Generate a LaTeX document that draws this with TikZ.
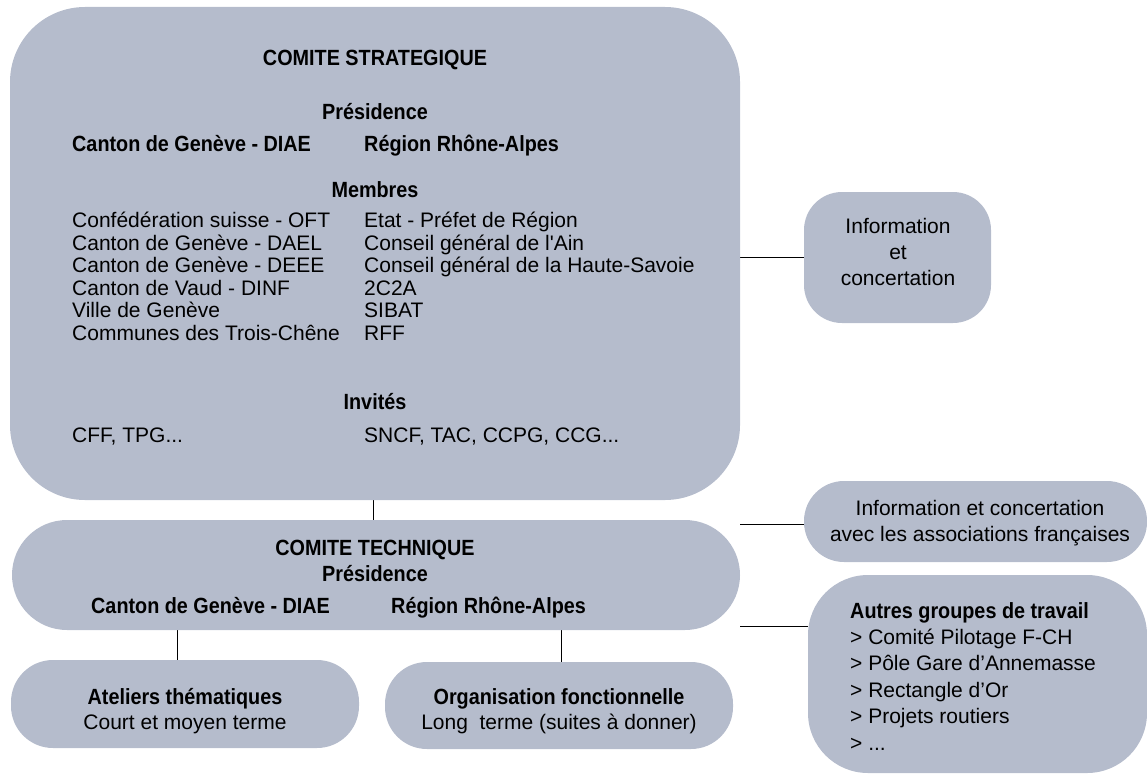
\documentclass[tikz,border=0pt]{standalone}
\usepackage{fontspec}
\setmainfont{Liberation Sans}
\newfontfamily\hdfont{Liberation Sans}[FakeStretch=0.9]
\usetikzlibrary{backgrounds}
\definecolor{boxfill}{RGB}{181,188,204}
\begin{document}
\begin{tikzpicture}[x=1pt,y=-1pt,
  box/.style={fill=boxfill, draw=none, inner sep=0pt, outer sep=0pt},
  hd/.style={font={\hdfont\bfseries\fontsize{22}{26}\selectfont}, inner sep=0pt, anchor=base},
  hdl/.style={hd, anchor=base west},
  tx/.style={font={\fontsize{21}{25}\selectfont}, inner sep=0pt, anchor=base west},
  txc/.style={tx, anchor=base},
  conn/.style={draw=black, line width=0.9pt}
]
\useasboundingbox (0,0) rectangle (1147,776);

% boxes
\node[box, rounded corners=75pt, minimum width=730pt, minimum height=493pt] (cs) at (375,253.5) {};
\node[box, rounded corners=55pt, minimum width=728pt, minimum height=110pt] (ct) at (376,575) {};
\node[box, rounded corners=38pt, minimum width=187pt, minimum height=131pt] (info) at (897.5,257.5) {};
\node[box, rounded corners=40pt, minimum width=343pt, minimum height=81pt] (assoc) at (975.5,521.5) {};
\node[box, rounded corners=60pt, minimum width=339pt, minimum height=198pt] (autres) at (977.5,674) {};
\node[box, rounded corners=42pt, minimum width=348pt, minimum height=88pt] (atel) at (185,704) {};
\node[box, rounded corners=42pt, minimum width=348pt, minimum height=87pt] (org) at (559,705.5) {};

% comite strategique
\node[hd] (cstitle) at (375,66) {COMITE STRATEGIQUE};
\node[hd] (cspres) at (375,119) {Présidence};
\node[hdl] (csp1) at (72,151) {Canton de Genève - DIAE};
\node[hdl] (csp2) at (364,151) {Région Rhône-Alpes};
\node[hd] (csmem) at (375,197) {Membres};
\node[tx] (ma1) at (72,227.5) {Confédération suisse - OFT};
\node[tx] (ma2) at (72,250.1) {Canton de Genève - DAEL};
\node[tx] (ma3) at (72,272.7) {Canton de Genève - DEEE};
\node[tx] (ma4) at (72,295.3) {Canton de Vaud - DINF};
\node[tx] (ma5) at (72,317.9) {Ville de Genève};
\node[tx] (ma6) at (72,340.5) {Communes des Trois-Chêne};
\node[tx] (mb1) at (364,227.5) {Etat - Préfet de Région};
\node[tx] (mb2) at (364,250.1) {Conseil général de l\textquotesingle Ain};
\node[tx] (mb3) at (364,272.7) {Conseil général de la Haute-Savoie};
\node[tx] (mb4) at (364,295.3) {2C2A};
\node[tx] (mb5) at (364,317.9) {SIBAT};
\node[tx] (mb6) at (364,340.5) {RFF};
\node[hd] (csinv) at (375,409) {Invités};
\node[tx] (inv1) at (72,442.5) {CFF, TPG...};
\node[tx] (inv2) at (364,442.5) {SNCF, TAC, CCPG, CCG...};

% comite technique
\node[hd] (cttitle) at (375,555) {COMITE TECHNIQUE};
\node[hd] (ctpres) at (375,581) {Présidence};
\node[hdl] (ctp1) at (91,613) {Canton de Genève - DIAE};
\node[hdl] (ctp2) at (391,613) {Région Rhône-Alpes};

% ateliers / organisation
\node[hd] (atelt) at (185,704) {Ateliers thématiques};
\node[txc] (ateld) at (185,729) {Court et moyen terme};
\node[hd] (orgt) at (559,704) {Organisation fonctionnelle};
\node[txc] (orgd) at (559,729) {Long\ \ terme (suites à donner)};

% information
\node[txc] (info1) at (898,233.5) {Information};
\node[txc] (info2) at (898,259.5) {et};
\node[txc] (info3) at (898,285.5) {concertation};

% associations
\node[txc] (as1) at (980,515.5) {Information et concertation};
\node[txc] (as2) at (980,541.5) {avec les associations françaises};

% autres groupes
\node[hdl] (aut0) at (850,618) {Autres groupes de travail};
\node[tx] (aut1) at (850,644.4) {> Comité Pilotage F-CH};
\node[tx] (aut2) at (850,670.8) {> Pôle Gare d’Annemasse};
\node[tx] (aut3) at (850,697.2) {> Rectangle d’Or};
\node[tx] (aut4) at (850,723.6) {> Projets routiers};
\node[tx] (aut5) at (850,750) {> ...};

% connectors
\coordinate (autin) at (808,626);
\begin{scope}[on background layer]
\draw[conn] ([xshift=-2pt]cs.south) -- ([xshift=-2pt]cs.south |- ct.north);
\draw[conn] (info.west) -- (info.west -| cs.east);
\draw[conn] ([yshift=-2.5pt]assoc.west) -- ([yshift=-2.5pt]assoc.west -| ct.east);
\draw[conn] (autin) -- (autin -| ct.east);
\draw[conn] ([xshift=-8pt]atel.north) -- ([xshift=-8pt]atel.north |- ct.south);
\draw[conn] ([xshift=2pt]org.north) -- ([xshift=2pt]org.north |- ct.south);
\end{scope}
\end{tikzpicture}
\end{document}
